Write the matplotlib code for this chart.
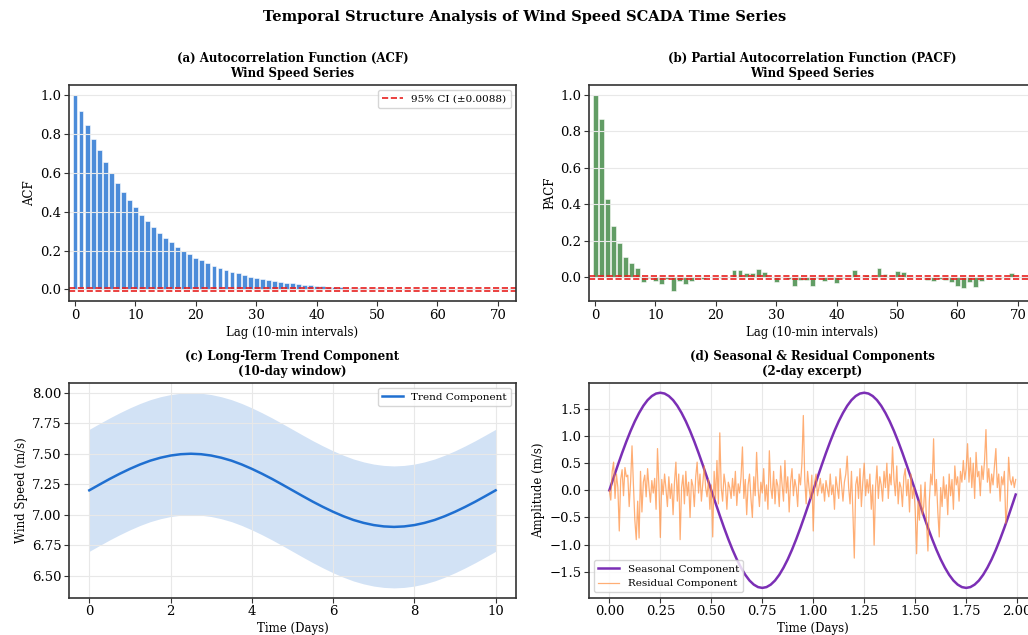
import numpy as np
import matplotlib.pyplot as plt
from matplotlib.ticker import MultipleLocator

plt.rcParams.update({
    "font.family": "serif",
    "font.serif": ["DejaVu Serif"],
    "axes.edgecolor": "#333333",
    "axes.linewidth": 1.2,
})

# --- data --------------------------------------------------------------
lags = np.arange(73)
acf_vals = [1.000, 0.918, 0.845, 0.775, 0.715, 0.655, 0.597, 0.548, 0.499, 0.461,
            0.421, 0.382, 0.352, 0.321, 0.292, 0.264, 0.242, 0.219, 0.198, 0.183,
            0.164, 0.149, 0.135, 0.123, 0.109, 0.100, 0.088, 0.083, 0.074, 0.066,
            0.059, 0.053, 0.047, 0.041, 0.038, 0.035, 0.031, 0.028, 0.025, 0.022,
            0.020, 0.018, 0.015, 0.013, 0.011, 0.010, 0.009, 0.008, 0.007, 0.006,
            0.005, 0.005, 0.004, 0.004, 0.003, 0.003, 0.003, 0.002, 0.002, 0.002,
            0.002, 0.001, 0.001, 0.001, 0.001, 0.001, 0.001, 0.001, 0.000, 0.000,
            0.000, 0.000, 0.000]
pacf_vals = [1.000, 0.870, 0.430, 0.279, 0.189, 0.110, 0.081, 0.050, -0.026, -0.005,
             -0.020, -0.035, -0.010, -0.075, -0.020, -0.035, -0.020, 0.000, -0.010, 0.002,
             0.001, -0.002, 0.002, 0.040, 0.040, 0.025, 0.025, 0.045, 0.030, 0.005,
             -0.025, 0.005, -0.010, -0.045, -0.015, -0.015, -0.045, -0.005, -0.020, -0.005,
             -0.030, -0.005, 0.005, 0.040, 0.005, 0.015, 0.010, 0.050, 0.020, 0.010,
             0.035, 0.030, -0.005, 0.005, 0.005, -0.015, -0.020, -0.010, -0.015, -0.025,
             -0.045, -0.060, -0.025, -0.050, -0.020, 0.000, 0.005, -0.005, 0.005, 0.025,
             0.005, -0.004, 0.003]
ci = 0.0088

trend_days = np.arange(41) * 0.25
trend_vals = [7.200, 7.247, 7.293, 7.336, 7.376, 7.412, 7.443, 7.467, 7.485, 7.496,
              7.500, 7.496, 7.485, 7.467, 7.443, 7.412, 7.376, 7.336, 7.293, 7.247,
              7.200, 7.153, 7.107, 7.064, 7.024, 6.988, 6.957, 6.933, 6.915, 6.904,
              6.900, 6.904, 6.915, 6.933, 6.957, 6.988, 7.024, 7.064, 7.107, 7.153,
              7.200]
trend_band = 0.5

season_days = list(np.arange(96) / 48) + [287 / 144]
season_vals = [
    0.000, 0.235, 0.466, 0.689, 0.900, 1.096, 1.273, 1.427, 1.559, 1.664, 1.739, 1.785,
    1.800, 1.785, 1.739, 1.664, 1.559, 1.427, 1.273, 1.096, 0.900, 0.689, 0.466, 0.235,
    0.000, -0.235, -0.466, -0.689, -0.900, -1.096, -1.273, -1.427, -1.559, -1.664, -1.739, -1.785,
    -1.800, -1.785, -1.739, -1.664, -1.559, -1.427, -1.273, -1.096, -0.900, -0.689, -0.466, -0.235,
    0.000, 0.235, 0.466, 0.689, 0.900, 1.096, 1.273, 1.427, 1.559, 1.664, 1.739, 1.785,
    1.800, 1.785, 1.739, 1.664, 1.559, 1.427, 1.273, 1.096, 0.900, 0.689, 0.466, 0.235,
    0.000, -0.235, -0.466, -0.689, -0.900, -1.096, -1.273, -1.427, -1.559, -1.664, -1.739, -1.785,
    -1.800, -1.785, -1.739, -1.664, -1.559, -1.427, -1.273, -1.096, -0.900, -0.689, -0.466, -0.235,
    -0.078,
]

resid_days = np.arange(288) / 144
resid_vals = [
    0.00, -0.18, 0.35, 0.52, -0.15, 0.30, 0.05, -0.75, 0.20, 0.38, -0.10, 0.42,
    0.25, 0.28, -0.30, 0.15, 0.82, 0.10, -0.55, -0.91, -0.20, -0.88, 0.35, -0.40,
    0.15, 0.28, -0.12, 0.40, 0.05, -0.22, 0.18, -0.05, 0.22, -0.35, 0.77, 0.10,
    -0.87, 0.20, -0.08, 0.30, 0.02, -0.30, 0.25, -0.15, 0.12, -0.45, 0.15, 0.52,
    -0.20, 0.30, -0.91, 0.05, 0.28, -0.25, 0.35, -0.10, 0.15, -0.50, 0.20, 0.08,
    -0.30, 0.25, 0.52, -0.05, 0.30, -0.20, 0.12, 0.45, 0.05, -0.12, 0.20, -0.35,
    0.10, -0.86, 0.35, -0.15, 0.55, -0.25, 1.06, 0.05, -0.20, 0.30, 0.10, -0.35,
    0.15, 0.05, -0.15, 0.22, -0.10, 0.35, -0.28, 0.12, -0.05, 0.25, 0.80, -0.15,
    0.20, -0.45, 0.10, 0.30, -0.15, -0.50, 0.25, -0.10, 0.70, 0.05, -0.30, 0.15,
    -0.05, 0.40, -0.20, 0.10, -0.35, 0.73, 0.05, -0.15, 0.35, -0.25, 0.20, 0.08,
    -0.30, 0.45, 0.10, -0.20, 0.55, -0.05, 0.25, -0.40, 0.15, 0.40, -0.10, 0.20,
    0.05, -0.30, 0.30, 0.10, 0.50, 1.38, 0.20, -0.25, 0.35, 0.05, -0.15, 0.28,
    -0.75, 0.15, 0.30, -0.10, 0.05, 0.22, -0.05, 0.12, -0.20, 0.18, 0.02, -0.12,
    0.30, -0.08, 0.10, -0.35, 0.25, 0.05, -0.15, 0.40, 0.10, -0.20, 0.15, 0.30,
    0.63, 0.05, -0.25, 0.35, -0.40, -1.25, 0.10, 0.25, -0.15, 0.40, -0.30, 0.15,
    0.50, -0.10, 0.20, -0.05, 0.30, -0.35, 0.10, -1.01, 0.05, 0.45, -0.15, 0.25,
    0.10, -0.20, 0.35, 0.05, 0.50, -0.15, 0.30, 0.10, 0.80, 0.20, -0.10, 0.45,
    -0.25, 0.15, 0.05, -0.30, 0.25, 0.40, -0.10, 0.20, -0.40, 0.30, -0.15, 0.05,
    -0.35, -1.17, -0.20, -0.55, 0.10, -0.45, -0.30, 0.15, -0.60, -1.12, -0.20, 0.30,
    0.10, 0.95, -0.10, 0.20, -0.40, -0.86, 0.05, -0.30, 0.25, -0.15, 0.10, -0.45,
    0.30, -0.10, 0.20, -0.35, 0.45, 0.10, 0.25, -0.20, 0.35, 0.15, 0.55, 0.20,
    0.40, 0.86, 0.15, 0.60, 0.05, 0.50, -0.15, 0.70, 0.25, 0.35, -0.10, 0.45,
    0.20, 0.55, 1.12, 0.15, 0.40, -0.05, 0.30, 0.10, 0.45, 0.77, 0.05, 0.30,
    -0.20, 0.25, 0.10, 0.35, -0.61, -0.30, 0.61, 0.20, 0.10, 0.25, 0.05, 0.20,
]

blue = "#1f6fd0"
green = "#2e7d32"
red = "#e8201f"
purple = "#7b2fb5"
orange = "#ff8c3a"

fig = plt.figure(figsize=(10.28, 6.35), dpi=100)
fig.suptitle("Temporal Structure Analysis of Wind Speed SCADA Time Series",
             fontsize=10.5, fontweight="bold", x=0.51, y=0.985)

W, H = 0.4348, 0.3402
ax1 = fig.add_axes([0.0671, 0.5260, W, H])
ax2 = fig.add_axes([0.5730, 0.5260, W, H])
ax3 = fig.add_axes([0.0671, 0.0588, W, 0.3381])
ax4 = fig.add_axes([0.5730, 0.0588, W, 0.3381])

title_kw = dict(fontsize=8.5, fontweight="bold")
lab_kw = dict(fontsize=8.5, labelpad=3)

# (a) ACF
ax1.bar(lags, acf_vals, width=0.8, color=blue, alpha=0.8, edgecolor="white", linewidth=0.5)
ax1.axhline(ci, color=red, ls="--", lw=1.2, label=f"95% CI (±{ci})")
ax1.axhline(-ci, color=red, ls="--", lw=1.2)
ax1.set_xlim(-1, 73)
ax1.set_title("(a) Autocorrelation Function (ACF)\nWind Speed Series", **title_kw)
ax1.set_xlabel("Lag (10-min intervals)", **lab_kw)
ax1.set_ylabel("ACF", **lab_kw)
ax1.legend(loc="upper right", fontsize=7.5)
ax1.grid(True, axis="y", color="#e8e8e8", lw=0.8)

# (b) PACF
ax2.bar(lags, pacf_vals, width=0.8, color=green, alpha=0.75, edgecolor="white", linewidth=0.5)
ax2.axhline(ci, color=red, ls="--", lw=1.2)
ax2.axhline(-ci, color=red, ls="--", lw=1.2)
ax2.set_xlim(-1, 73)
ax2.set_title("(b) Partial Autocorrelation Function (PACF)\nWind Speed Series", **title_kw)
ax2.set_xlabel("Lag (10-min intervals)", **lab_kw)
ax2.set_ylabel("PACF", **lab_kw)
ax2.grid(True, axis="y", color="#e8e8e8", lw=0.8)

# (c) trend
trend = np.array(trend_vals)
ax3.fill_between(trend_days, trend - trend_band, trend + trend_band, color=blue, alpha=0.2, lw=0)
ax3.plot(trend_days, trend, color=blue, lw=1.8, label="Trend Component")
ax3.yaxis.set_major_locator(MultipleLocator(0.25))
ax3.set_title("(c) Long-Term Trend Component\n(10-day window)", **title_kw)
ax3.set_xlabel("Time (Days)", **lab_kw)
ax3.set_ylabel("Wind Speed (m/s)", **lab_kw)
ax3.legend(loc="upper right", fontsize=7.5)
ax3.grid(True, color="#e8e8e8", lw=0.8)

# (d) seasonal & residual
ax4.plot(season_days, season_vals, color=purple, lw=1.8, label="Seasonal Component")
ax4.plot(resid_days, resid_vals, color=orange, lw=0.9, alpha=0.7, label="Residual Component")
ax4.xaxis.set_major_locator(MultipleLocator(0.25))
ax4.yaxis.set_major_locator(MultipleLocator(0.5))
ax4.set_title("(d) Seasonal & Residual Components\n(2-day excerpt)", **title_kw)
ax4.set_xlabel("Time (Days)", **lab_kw)
ax4.set_ylabel("Amplitude (m/s)", **lab_kw)
ax4.legend(loc="lower left", fontsize=7.5)
ax4.grid(True, color="#e8e8e8", lw=0.8)

for ax in (ax1, ax2, ax3, ax4):
    ax.tick_params(labelsize=9.5, length=3.5, pad=2, color="#333333")

fig.savefig("out.png", dpi=100)
